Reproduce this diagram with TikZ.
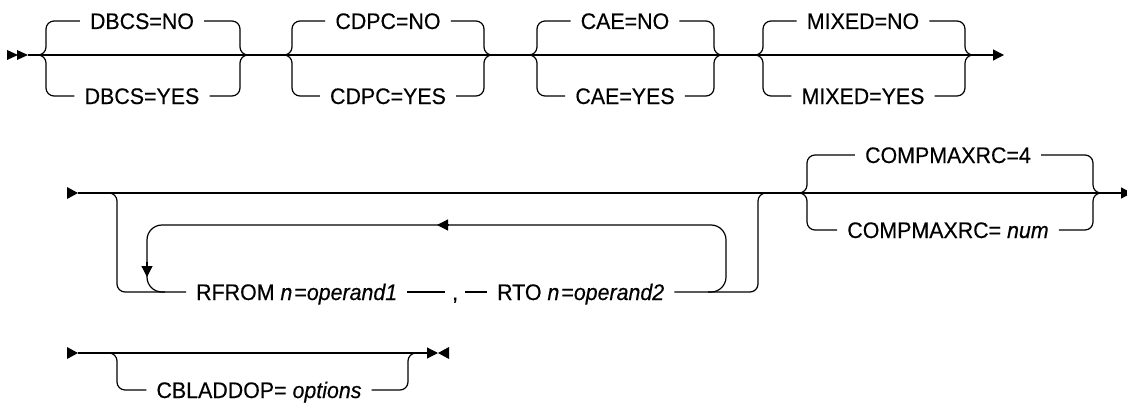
\documentclass[tikz,border=0pt]{standalone}
\usepackage{fontspec}
\setmainfont{Liberation Sans}
\newfontfamily\lblfont{Liberation Sans}[FakeBold=0.35, FakeStretch=0.95]
\usetikzlibrary{arrows.meta}
\newcommand\rrchoice[9]{%
  \node[lbl] (#1t) at (#4,#6) {#8};
  \node[lbl] (#1b) at (#4,#7) {#9};
  \draw[rr] ({#2-8},#5) -- (#2,#5) -- (#2,#6) -- (#1t.west);
  \draw[rr] (#1t.east) -- (#3,#6) -- (#3,#5) -- ({#3+8},#5);
  \draw[rr] ({#2-8},#5) -- (#2,#5) -- (#2,#7) -- (#1b.west);
  \draw[rr] (#1b.east) -- (#3,#7) -- (#3,#5) -- ({#3+8},#5);
}
\begin{document}
\begin{tikzpicture}[x=1pt,y=-1pt,
  rr/.style={line width=1.2pt, rounded corners=8pt},
  plain/.style={line width=1.2pt},
  loopline/.style={line width=1.2pt, rounded corners=15pt},
  lbl/.style={inner xsep=10pt, inner ysep=0pt, text height=16pt, text depth=0pt, font=\lblfont\fontsize{22.5}{27}\selectfont},
  arr/.style={line width=1.2pt, -{Triangle[length=11pt,width=11pt]}}
]
\useasboundingbox (0,0) rectangle (1127,404);

% ---- row 1
\fill (7,50) -- (18,55) -- (7,60) -- cycle;
\fill (17,50) -- (28,55) -- (17,60) -- cycle;
\coordinate (s1) at (28,55);
\coordinate (e1) at (1004,55);
\draw[arr] (s1) -- (e1);
\rrchoice{dbcs}{46}{240}{142}{55}{21}{96}{DBCS=NO}{DBCS=YES}
\rrchoice{cdpc}{292}{484}{388}{55}{21}{96}{CDPC=NO}{CDPC=YES}
\rrchoice{cae}{537}{714}{625}{55}{21}{96}{CAE=NO}{CAE=YES}
\rrchoice{mixed}{763}{965}{863}{55}{21}{96}{MIXED=NO}{MIXED=YES}

% ---- row 2
\fill (67,187) -- (78,193) -- (67,199) -- cycle;
\coordinate (s2) at (78,193);
\coordinate (e2) at (1132,193);
\draw[arr] (s2) -- (e2);
\node[lbl, anchor=west] (rfrom) at (186,292) {RFROM \textit{n}\hspace{2pt}=\textit{operand1}};
\node[lbl, anchor=west, inner xsep=7pt] (comma) at (445,292) {,};
\node[lbl, anchor=west] (rto) at (487,292) {RTO \textit{n}\hspace{2pt}=\textit{operand2}};
\draw[rr] (109,193) -- (117,193) -- (117,292) -- (rfrom.west);
\draw[plain] (rfrom.east) -- (comma.west);
\draw[plain] (comma.east) -- (rto.west);
\draw[rr] (rto.east) -- (758,292) -- (758,193) -- (766,193);
\draw[loopline] (708,292) -- (726,292) -- (726,225) -- (147,225) -- (147,292) -- (165,292);
\draw[arr] (449,225) -- (437,225);
\draw[arr] (147,262) -- (147,277);
\rrchoice{cmx}{807}{1093}{948}{193}{155}{230}{COMPMAXRC=4}{COMPMAXRC= \textit{num}}

% ---- row 3
\fill (67,347) -- (78,353) -- (67,359) -- cycle;
\coordinate (s3) at (78,353);
\coordinate (e3) at (438,353);
\draw[arr] (s3) -- (e3);
\fill (449,347) -- (438,353) -- (449,359) -- cycle;
\node[lbl] (cbl) at (259,390) {CBLADDOP= \textit{options}};
\draw[rr] (109,353) -- (117,353) -- (117,390) -- (cbl.west);
\draw[rr] (cbl.east) -- (408,390) -- (408,353) -- (416,353);
\end{tikzpicture}
\end{document}
